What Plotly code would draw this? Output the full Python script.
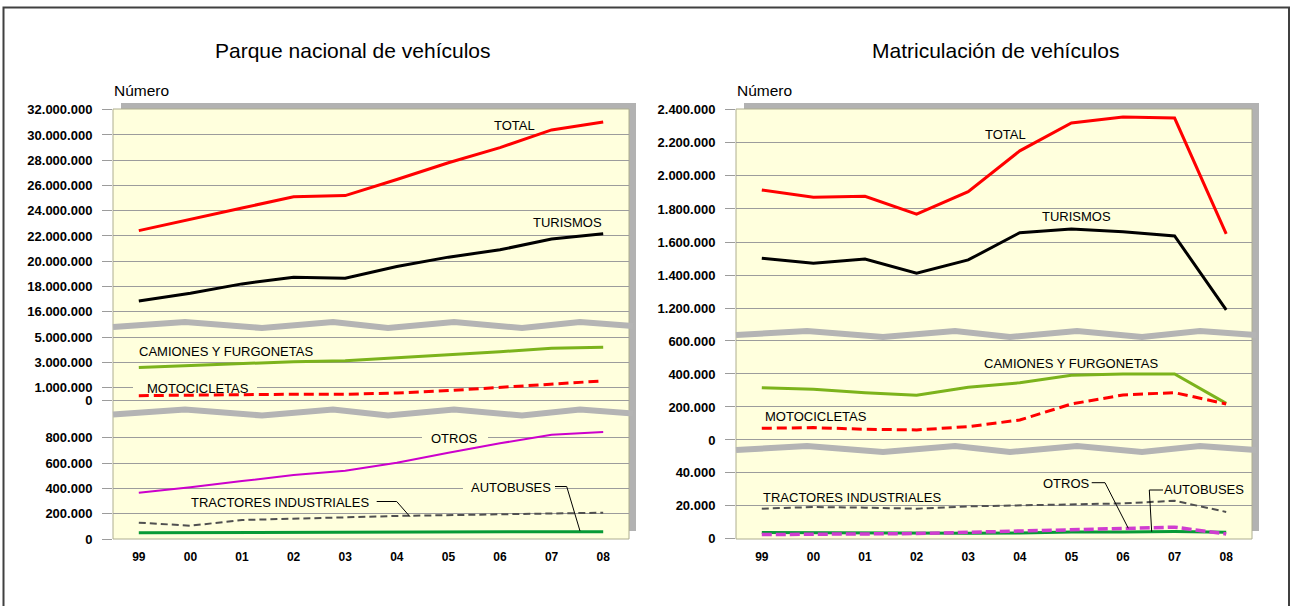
import plotly.graph_objects as go

W, H = 1291, 606

years = ["99", "00", "01", "02", "03", "04", "05", "06", "07", "08"]

# Parque nacional de vehículos
parque_total = [22420000, 23290000, 24220000, 25100000, 25200000, 26470000, 27800000, 29000000, 30400000, 31030000]
parque_turismos = [16850000, 17460000, 18200000, 18730000, 18650000, 19580000, 20320000, 20900000, 21760000, 22180000]
parque_camiones = [2610000, 2770000, 2900000, 3060000, 3140000, 3360000, 3620000, 3860000, 4130000, 4210000]
parque_motos = [370000, 420000, 420000, 480000, 480000, 580000, 770000, 1040000, 1300000, 1540000]
parque_otros = [365000, 408000, 458000, 505000, 539000, 602000, 681000, 756000, 824000, 845000]
parque_tractores = [129000, 105000, 150000, 163000, 171000, 182000, 190000, 197000, 205000, 208000]
parque_autobuses = [50000, 51000, 52000, 53000, 54000, 55000, 55000, 56000, 57000, 58000]

# Matriculación de vehículos
matr_total = [1914000, 1870000, 1876000, 1769000, 1904000, 2151000, 2319000, 2355000, 2349000, 1649000]
matr_turismos = [1502000, 1472000, 1498000, 1412000, 1492000, 1657000, 1679000, 1663000, 1637000, 1191000]
matr_camiones = [317000, 307000, 287000, 271000, 319000, 347000, 392000, 400000, 400000, 222000]
matr_motos = [71000, 75000, 65000, 61000, 81000, 121000, 218000, 273000, 287000, 218000]
matr_tractores = [18200, 19200, 18800, 18200, 19600, 20200, 21000, 21400, 23000, 16200]
matr_otros = [2400, 2400, 2800, 3000, 3800, 4700, 5600, 6500, 6900, 2800]
matr_autobuses = [3600, 3400, 3400, 3200, 3200, 3400, 4000, 4000, 4200, 3800]

ticks_p_top = [16e6, 18e6, 20e6, 22e6, 24e6, 26e6, 28e6, 30e6, 32e6]
ticks_p_mid = [0, 1e6, 3e6, 5e6]
ticks_p_bot = [0, 200000, 400000, 600000, 800000]
ticks_m_top = [1.2e6, 1.4e6, 1.6e6, 1.8e6, 2.0e6, 2.2e6, 2.4e6]
ticks_m_mid = [0, 200000, 400000, 600000]
ticks_m_bot = [0, 20000, 40000]

FONT = "Arial, Liberation Sans, sans-serif"
YELLOW = "#ffffdd"
GRID = "#9c9c9c"
BAND = "#b4b4b4"


def px(x):
    return x / W


def py(y):
    return 1 - y / H


fig = go.Figure()


def add(x_ax, y_ax, vals, color, width, dash="solid"):
    fig.add_trace(go.Scatter(x=years, y=vals, xaxis=x_ax, yaxis=y_ax, mode="lines",
                             line=dict(color=color, width=width, dash=dash),
                             hoverinfo="skip", showlegend=False))


# left panel
add("x", "y", parque_total, "#ff0000", 3)
add("x", "y", parque_turismos, "#000000", 3)
add("x", "y2", parque_camiones, "#7cb31c", 3)
add("x", "y2", parque_motos, "#ff0000", 3, "10px,5px")
add("x", "y3", parque_otros, "#cc00cc", 2)
add("x", "y3", parque_tractores, "#505050", 2, "7px,4px")
add("x", "y3", parque_autobuses, "#079a36", 3)
# right panel
add("x2", "y4", matr_total, "#ff0000", 3)
add("x2", "y4", matr_turismos, "#000000", 3)
add("x2", "y5", matr_camiones, "#7cb31c", 3)
add("x2", "y5", matr_motos, "#ff0000", 3, "10px,5px")
add("x2", "y6", matr_tractores, "#505050", 2, "7px,4px")
add("x2", "y6", matr_autobuses, "#079a36", 3)
add("x2", "y6", matr_otros, "#d03cd0", 3.5, "10px,4px")


def yax(top, bot, rng, ticks, anchor):
    return dict(domain=[py(bot), py(top)], range=rng, anchor=anchor,
                tickvals=ticks, tickformat=",.0f", showgrid=True, gridcolor=GRID,
                gridwidth=1, zeroline=False, showline=False, ticks="outside",
                ticklen=10, tickcolor=GRID, ticklabelstandoff=7, automargin=False,
                tickfont=dict(family=FONT, size=13, color="#000000", weight="bold"),
                fixedrange=True)


def xax(x0, x1, anchor):
    return dict(domain=[px(x0), px(x1)], type="category", range=[-0.5, 9.5],
                anchor=anchor, showgrid=False, zeroline=False, showline=False,
                ticks="", ticklabelstandoff=9, automargin=False,
                tickfont=dict(family=FONT, size=12, color="#000000", weight="bold"))


fig.update_layout(
    width=W, height=H, autosize=False,
    margin=dict(l=0, r=0, t=0, b=0, pad=0, autoexpand=False),
    paper_bgcolor="#ffffff", plot_bgcolor="rgba(0,0,0,0)",
    separators=",.", showlegend=False,
    font=dict(family=FONT, color="#000000"),
    xaxis=xax(113, 629, "y3"),
    xaxis2=xax(736, 1252, "y6"),
    yaxis=yax(109, 322, [15.18e6, 32.06e6], ticks_p_top, "x"),
    yaxis2=yax(329, 412, [-0.929e6, 5.659e6], ticks_p_mid, "x"),
    yaxis3=yax(419, 539, [0, 948000], ticks_p_bot, "x"),
    yaxis4=yax(109, 330, [1069000, 2403600], ticks_m_top, "x2"),
    yaxis5=yax(338, 446, [-36400, 618000], ticks_m_mid, "x2"),
    yaxis6=yax(455, 539, [-300, 50900], ticks_m_bot, "x2"),
)

shapes = []
# outer frame
shapes.append(dict(type="rect", xref="paper", yref="paper", x0=px(3.5), x1=px(1289),
                   y0=py(640), y1=py(7.5), line=dict(color="#404040", width=2), layer="below"))
# shadows and plot areas
for (x0, x1) in [(113, 629), (736, 1252)]:
    shapes.append(dict(type="rect", xref="paper", yref="paper", x0=px(x0 + 8), x1=px(x1 + 7),
                       y0=py(531), y1=py(103), fillcolor="#b2b2b2", line=dict(width=0), layer="below"))
    shapes.append(dict(type="rect", xref="paper", yref="paper", x0=px(x0), x1=px(x1),
                       y0=py(539), y1=py(109), fillcolor=YELLOW,
                       line=dict(color="#aeae90", width=1), layer="below"))


def zig(points, dy):
    path = "M " + " L ".join(f"{px(x)},{py(y + dy)}" for x, y in points)
    return dict(type="path", xref="paper", yref="paper", path=path,
                line=dict(color=BAND, width=6), layer="above")


left_band = [(113, 327), (185, 322), (262, 328), (333, 322), (388, 328), (454, 322),
             (522, 328), (580, 322), (633, 326)]
right_band = [(736, 335), (807, 331), (883, 337), (955, 331), (1010, 337), (1077, 331),
              (1142, 337), (1200, 331), (1256, 335)]
shapes.append(zig(left_band, 0))
shapes.append(zig(left_band, 87.5))
shapes.append(zig(right_band, 0))
shapes.append(zig(right_band, 115))

# gridline gaps behind labels
for (x0, x1, y) in [(133, 257, 387.7), (422, 488, 437.7), (463, 555, 489)]:
    shapes.append(dict(type="rect", xref="paper", yref="paper", x0=px(x0), x1=px(x1),
                       y0=py(y + 1.6), y1=py(y - 1.6), fillcolor=YELLOW,
                       line=dict(width=0), layer="above"))


def leader(pts):
    path = "M " + " L ".join(f"{px(x)},{py(y)}" for x, y in pts)
    return dict(type="path", xref="paper", yref="paper", path=path,
                line=dict(color="#000000", width=1), layer="above")


shapes.append(leader([(376.7, 501.5), (396.7, 501.5), (410, 516.7)]))
shapes.append(leader([(555, 486.5), (566.7, 486.5), (580, 531)]))
shapes.append(leader([(1091.7, 482.7), (1105, 482.7), (1128.3, 528.3)]))
shapes.append(leader([(1163, 490), (1149.3, 490), (1151.7, 531.7)]))
fig.update_layout(shapes=shapes)

annotations = []


def text(x, y, s, size=13, anchor="center"):
    annotations.append(dict(xref="paper", yref="paper", x=px(x), y=py(y), text=s,
                            showarrow=False, xanchor=anchor, yanchor="middle",
                            font=dict(family=FONT, size=size, color="#000000")))


text(352.5, 50, "Parque nacional de vehículos", 21)
text(995.5, 50, "Matriculación de vehículos", 21)
text(112, 90, "Número", 15.5, "left")
text(735, 90, "Número", 15.5, "left")

text(514, 126, "TOTAL")
text(567.5, 223, "TURISMOS")
text(226, 351, "CAMIONES Y FURGONETAS")
text(198, 388, "MOTOCICLETAS")
text(454.5, 438, "OTROS")
text(280, 502, "TRACTORES INDUSTRIALES")
text(511, 487, "AUTOBUSES")

text(1005.5, 135, "TOTAL")
text(1076, 217, "TURISMOS")
text(1071, 363, "CAMIONES Y FURGONETAS")
text(815.5, 417, "MOTOCICLETAS")
text(852, 498, "TRACTORES INDUSTRIALES")
text(1066, 483, "OTROS")
text(1204, 489, "AUTOBUSES")
fig.update_layout(annotations=annotations)

pin = ("document.documentElement.style.margin='0';document.body.style.margin='0';"
       "document.body.style.padding='0';document.body.style.overflow='hidden';"
       "var g=document.getElementById('{plot_id}');g.style.position='absolute';"
       "g.style.left='0px';g.style.top='0px';")

fig.write_html("out.html", post_script=pin, default_width="1291px", default_height="606px",
               config={"displayModeBar": False, "responsive": False})
